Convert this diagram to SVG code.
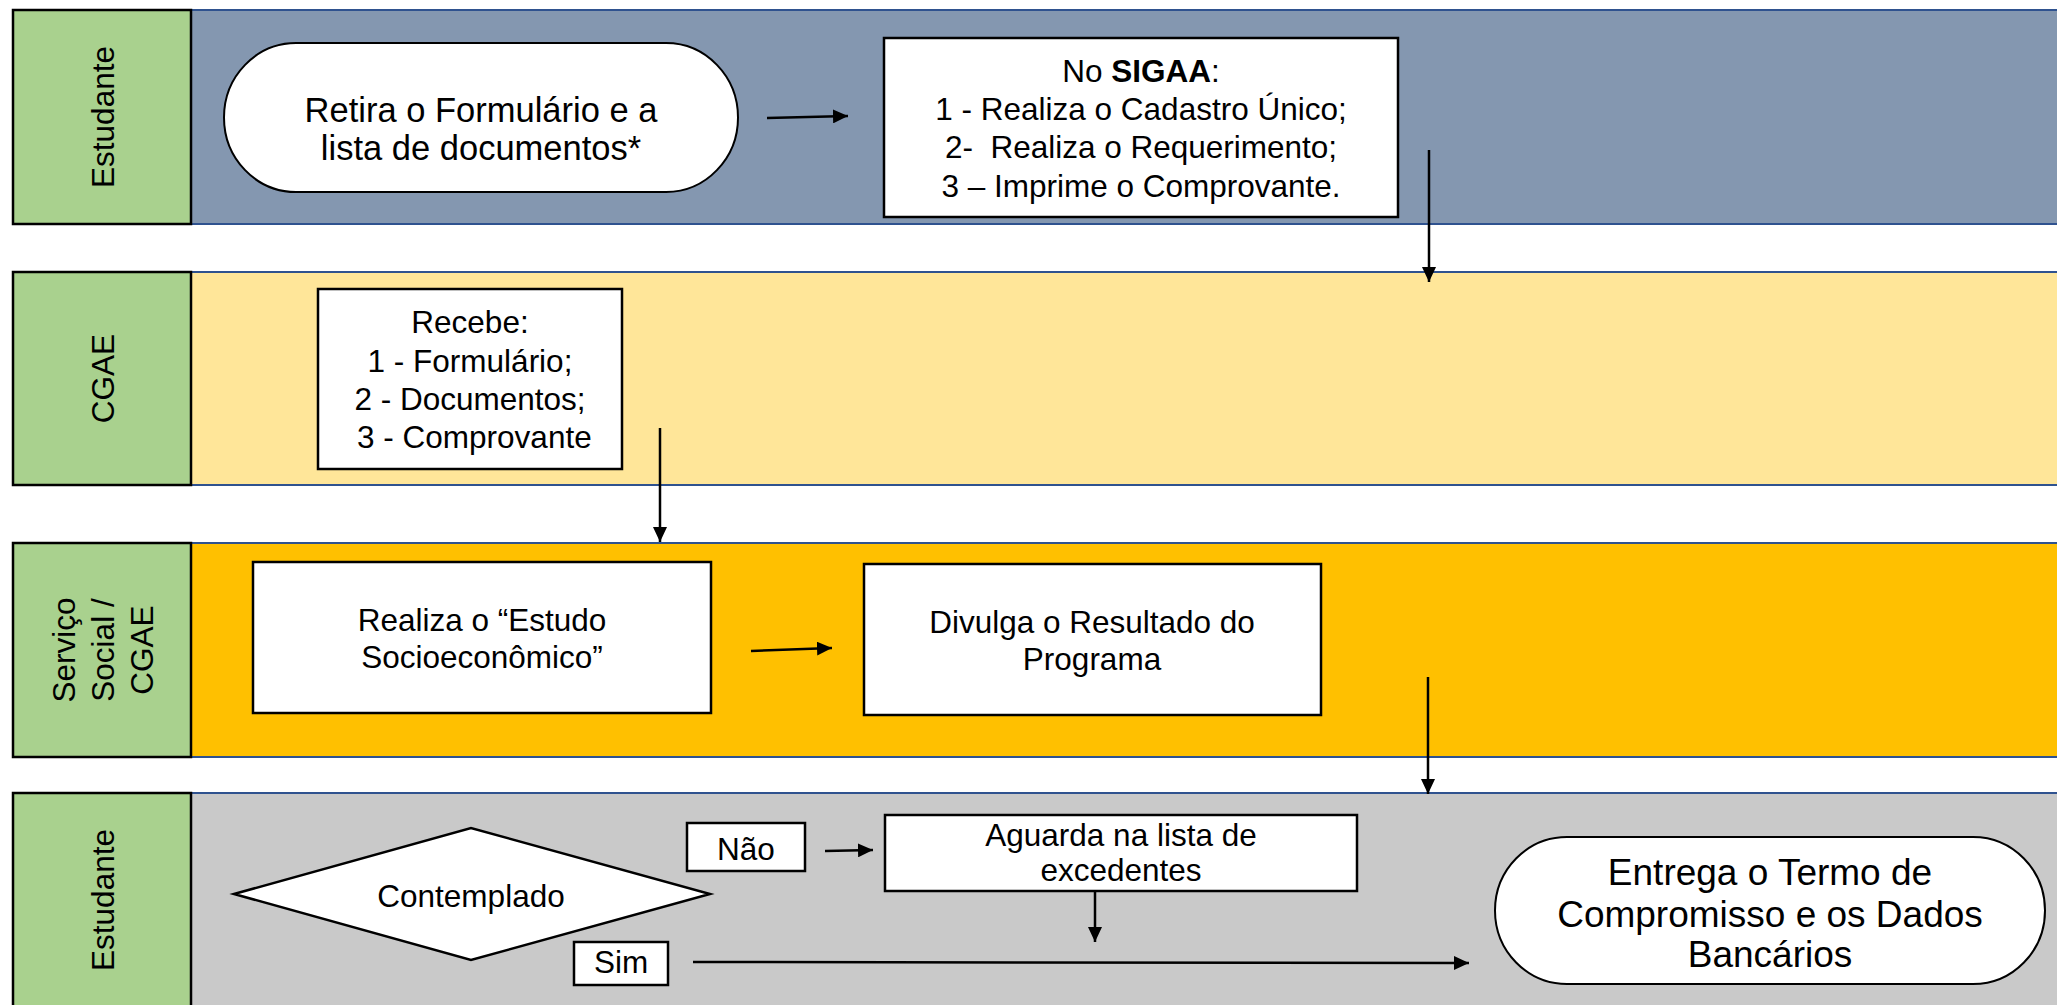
<svg xmlns="http://www.w3.org/2000/svg" width="2057" height="1005" viewBox="0 0 2057 1005">
  <style>
    .lane { stroke: #2F528F; stroke-width: 2; }
    .lbl { fill: #A9D18E; stroke: #000; stroke-width: 2.5; }
    .box { fill: #fff; stroke: #000; stroke-width: 2.5; }
    .term { fill: #fff; stroke: #000; stroke-width: 2; }
    text { font-family: "Liberation Sans", Arial, sans-serif; font-size: 31.5px; fill: #000; text-anchor: middle; }
    .conn line { stroke: #000; stroke-width: 2.5; fill: none; }
  </style>
  <defs>
    <marker id="ah" viewBox="0 0 15 14" refX="15" refY="7" markerWidth="15" markerHeight="14" markerUnits="userSpaceOnUse" orient="auto">
      <path d="M0,0 L15,7 L0,14 Z" fill="#000"/>
    </marker>
  </defs>
  <rect width="2057" height="1005" fill="#fff"/>

  <g id="lanes">
    <rect class="lane" x="191" y="10" width="1880" height="214" fill="#8497B0"/>
    <rect class="lane" x="191" y="272" width="1880" height="213" fill="#FFE699"/>
    <rect class="lane" x="191" y="543" width="1880" height="214" fill="#FFC000"/>
    <rect class="lane" x="191" y="793" width="1880" height="220" fill="#C9C9C9"/>
  </g>

  <g id="lane-label-1">
    <rect class="lbl" x="13" y="10" width="178" height="214"/>
    <text transform="translate(113.5,117) rotate(-90)">Estudante</text>
  </g>
  <g id="lane-label-2">
    <rect class="lbl" x="13" y="272" width="178" height="213"/>
    <text transform="translate(113.5,378.5) rotate(-90)">CGAE</text>
  </g>
  <g id="lane-label-3">
    <rect class="lbl" x="13" y="543" width="178" height="214"/>
    <text transform="translate(75,650) rotate(-90)"><tspan x="0" y="0">Serviço</tspan><tspan x="0" y="39">Social /</tspan><tspan x="0" y="78">CGAE</tspan></text>
  </g>
  <g id="lane-label-4">
    <rect class="lbl" x="13" y="793" width="178" height="220"/>
    <text transform="translate(113.5,900) rotate(-90)">Estudante</text>
  </g>

  <g id="node-retira">
    <rect class="term" x="224" y="43" width="514" height="149" rx="72" ry="74.5"/>
    <text style="font-size:34.5px"><tspan x="481" y="122">Retira o Formulário e a</tspan><tspan x="481" y="160">lista de documentos*</tspan></text>
  </g>

  <g id="node-sigaa">
    <rect class="box" x="884" y="38" width="514" height="179"/>
    <text xml:space="preserve"><tspan x="1141" y="82">No <tspan font-weight="bold">SIGAA</tspan>:</tspan><tspan x="1141" y="120">1 - Realiza o Cadastro Único;</tspan><tspan x="1141" y="158">2-  Realiza o Requerimento;</tspan><tspan x="1141" y="197">3 – Imprime o Comprovante.</tspan></text>
  </g>

  <g id="node-recebe">
    <rect class="box" x="318" y="289" width="304" height="180"/>
    <text xml:space="preserve"><tspan x="470" y="333">Recebe:</tspan><tspan x="470" y="372">1 - Formulário;</tspan><tspan x="470" y="410">2 - Documentos;</tspan><tspan x="470" y="448"> 3 - Comprovante</tspan></text>
  </g>

  <g id="node-estudo">
    <rect class="box" x="253" y="562" width="458" height="151"/>
    <text><tspan x="482" y="631">Realiza o “Estudo</tspan><tspan x="482" y="668">Socioeconômico”</tspan></text>
  </g>

  <g id="node-divulga">
    <rect class="box" x="864" y="564" width="457" height="151"/>
    <text><tspan x="1092" y="633">Divulga o Resultado do</tspan><tspan x="1092" y="670">Programa</tspan></text>
  </g>

  <g id="node-contemplado">
    <polygon class="box" points="234,894 471,828 710,894 471,960" stroke-width="2"/>
    <text x="471" y="907">Contemplado</text>
  </g>

  <g id="label-nao">
    <rect class="box" x="687" y="823" width="118" height="48" stroke-width="2"/>
    <text x="746" y="860">Não</text>
  </g>

  <g id="label-sim">
    <rect class="box" x="574" y="942" width="94" height="43" stroke-width="2"/>
    <text x="621" y="973">Sim</text>
  </g>

  <g id="node-aguarda">
    <rect class="box" x="885" y="815" width="472" height="76"/>
    <text><tspan x="1121" y="846">Aguarda na lista de</tspan><tspan x="1121" y="881">excedentes</tspan></text>
  </g>

  <g id="node-entrega">
    <rect class="term" x="1495" y="837" width="550" height="147" rx="72" ry="73.5"/>
    <text style="font-size:37px"><tspan x="1770" y="885">Entrega o Termo de</tspan><tspan x="1770" y="927">Compromisso e os Dados</tspan><tspan x="1770" y="967">Bancários</tspan></text>
  </g>

  <g id="connectors" class="conn">
    <line x1="767" y1="118" x2="848" y2="116" marker-end="url(#ah)"/>
    <line x1="1429" y1="150" x2="1429" y2="282" marker-end="url(#ah)"/>
    <line x1="660" y1="428" x2="660" y2="542" marker-end="url(#ah)"/>
    <line x1="751" y1="651" x2="832" y2="648" marker-end="url(#ah)"/>
    <line x1="1428" y1="677" x2="1428" y2="794" marker-end="url(#ah)"/>
    <line x1="825" y1="851" x2="873" y2="850" marker-end="url(#ah)"/>
    <line x1="1095" y1="891" x2="1095" y2="942" marker-end="url(#ah)"/>
    <line x1="693" y1="962" x2="1469" y2="963" marker-end="url(#ah)"/>
  </g>
</svg>
